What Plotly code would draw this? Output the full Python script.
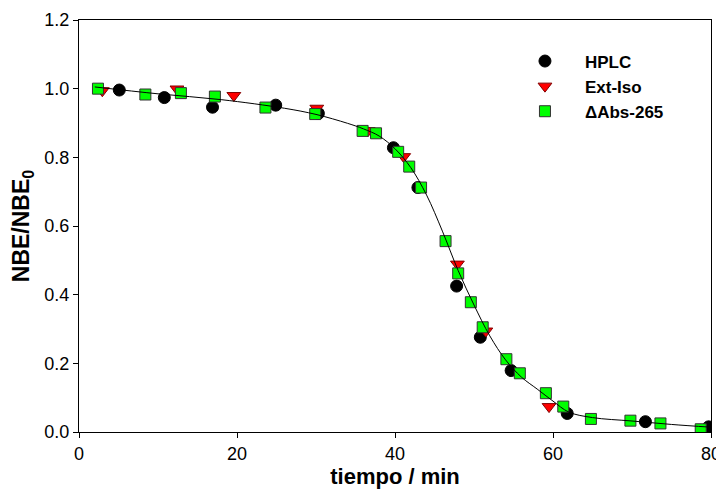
import plotly.graph_objects as go

# HPLC (black circles)
hplc_t = [5.1, 10.8, 16.9, 24.9, 30.3, 39.8, 42.9, 47.8, 50.8, 54.7, 61.8, 71.7, 79.7]
hplc_y = [0.996, 0.974, 0.946, 0.952, 0.928, 0.828, 0.712, 0.425, 0.276, 0.179, 0.054, 0.030, 0.015]

# Ext-Iso (red down triangles)
ext_t = [2.95, 12.4, 19.6, 30.1, 36.6, 41.1, 47.9, 51.5, 59.5]
ext_y = [0.994, 0.999, 0.980, 0.943, 0.878, 0.802, 0.489, 0.294, 0.074]

# ΔAbs-265 (green squares)
abs_t = [2.4, 8.4, 12.9, 17.2, 23.6, 29.9, 35.9, 37.6, 40.4, 41.8, 43.3, 46.4, 48.0, 49.6,
         51.1, 54.1, 55.8, 59.1, 61.3, 64.8, 69.8, 73.6, 78.7]
abs_y = [1.000, 0.983, 0.987, 0.977, 0.945, 0.926, 0.877, 0.870, 0.816, 0.773, 0.712, 0.556,
         0.462, 0.378, 0.305, 0.212, 0.171, 0.113, 0.074, 0.038, 0.033, 0.025, 0.008]

# fitted curve
fit_t = [2, 10, 18, 26, 30, 34, 36, 38, 40, 42, 44, 46, 48, 50, 52, 54, 56, 58, 60, 62, 65, 70, 75, 80]
fit_y = [1.005, 0.985, 0.968, 0.943, 0.925, 0.899, 0.883, 0.862, 0.825, 0.77, 0.69, 0.585, 0.47,
         0.37, 0.28, 0.21, 0.16, 0.125, 0.09, 0.058, 0.042, 0.032, 0.022, 0.014]

x_ticks = [0, 20, 40, 60, 80]
y_ticks = [0.0, 0.2, 0.4, 0.6, 0.8, 1.0, 1.2]

FONT = "Liberation Sans, Arial, sans-serif"

fig = go.Figure()
fig.add_trace(go.Scatter(x=hplc_t, y=hplc_y, mode="markers", name="HPLC",
                         marker=dict(symbol="circle", size=12, color="black",
                                     line=dict(color="black", width=1))))
fig.add_trace(go.Scatter(x=ext_t, y=ext_y, mode="markers", name="Ext-Iso",
                         marker=dict(symbol="triangle-down", size=12, color="#ff0000",
                                     line=dict(color="#800000", width=1))))
fig.add_trace(go.Scatter(x=abs_t, y=abs_y, mode="markers", name="ΔAbs-265",
                         marker=dict(symbol="square", size=11, color="#00ff00",
                                     line=dict(color="#333333", width=1))))
fig.add_trace(go.Scatter(x=fit_t, y=fit_y, mode="lines", showlegend=False,
                         line=dict(color="black", width=1, shape="spline"),
                         hoverinfo="skip"))

axis_common = dict(showgrid=False, zeroline=False, showline=True, linecolor="black",
                   linewidth=1, mirror=True, ticks="outside", ticklen=5, tickcolor="black",
                   automargin=False,
                   tickfont=dict(family=FONT, size=18, color="black"))

# the page body adds an 8px offset, so the figure is 716x481
fig.update_layout(
    width=716, height=481,
    margin=dict(l=71, r=13, t=12, b=57),
    paper_bgcolor="white", plot_bgcolor="white",
    font=dict(family=FONT, color="black"),
    xaxis=dict(range=[0, 80], tickvals=x_ticks,
               title=dict(text="<b>tiempo / min</b>", font=dict(family=FONT, size=22), standoff=4),
               **axis_common),
    yaxis=dict(range=[0, 1.2], tickvals=y_ticks, tickformat=".1f",
               title=dict(text="<b>NBE/NBE<sub>0</sub></b>", font=dict(family=FONT, size=23), standoff=9),
               **axis_common),
    legend=dict(x=0.674, y=0.943, xanchor="left", yanchor="top", bgcolor="rgba(0,0,0,0)",
                itemwidth=70, font=dict(family=FONT, size=17, weight="bold"),
                tracegroupgap=0),
    showlegend=True,
)

fig.write_html("out.html")
